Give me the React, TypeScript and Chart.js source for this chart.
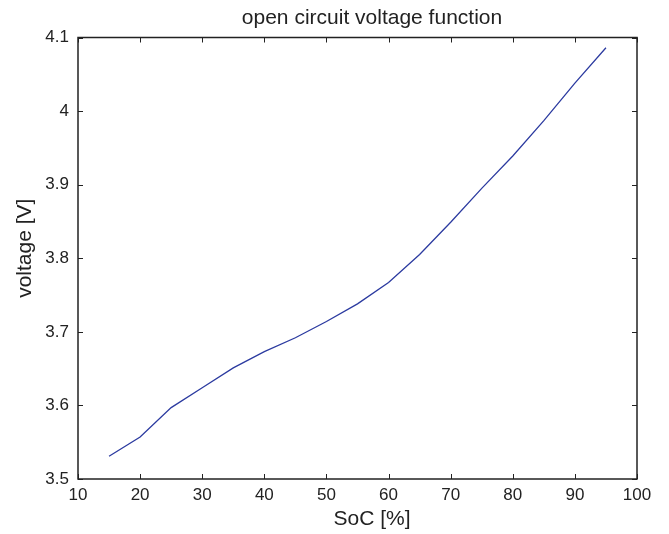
import React, { useEffect, useRef } from "react";
import { Chart, registerables } from "chart.js";

Chart.register(...registerables);

const socValues = [15, 20, 25, 30, 35, 40, 45, 50, 55, 60, 65, 70, 75, 80, 85, 90, 95];
const voltageValues = [3.531, 3.557, 3.597, 3.624, 3.651, 3.673, 3.692, 3.714, 3.738, 3.767, 3.805, 3.849, 3.895, 3.939, 3.987, 4.038, 4.086];
const xTicks = [10, 20, 30, 40, 50, 60, 70, 80, 90, 100];
const yTicks = [3.5, 3.6, 3.7, 3.8, 3.9, 4.0, 4.1];
const titleText = "open circuit voltage function";
const xLabel = "SoC [%]";
const yLabel = "voltage [V]";

const FONT = "'Liberation Sans', Arial, Helvetica, sans-serif";
const TEXT = "#222222";

const boxPlugin = {
  id: "matlabBox",
  afterDraw(chart: any) {
    const { ctx, chartArea } = chart;
    const xs = chart.scales.x;
    const ys = chart.scales.y;
    const { left, right, top, bottom } = chartArea;
    const tl = 5;
    ctx.save();
    ctx.strokeStyle = "#222222";
    ctx.lineWidth = 1;
    ctx.beginPath();
    xTicks.forEach((v) => {
      const px = Math.round(xs.getPixelForValue(v)) + 0.5;
      ctx.moveTo(px, bottom);
      ctx.lineTo(px, bottom - tl);
      ctx.moveTo(px, top);
      ctx.lineTo(px, top + tl);
    });
    yTicks.forEach((v) => {
      const py = Math.round(ys.getPixelForValue(v)) + 0.5;
      ctx.moveTo(left, py);
      ctx.lineTo(left + tl, py);
      ctx.moveTo(right, py);
      ctx.lineTo(right - tl, py);
    });
    ctx.stroke();
    ctx.lineWidth = 1.5;
    ctx.strokeRect(left, top, right - left, bottom - top);

    // texts: title and axis labels
    ctx.fillStyle = TEXT;
    ctx.font = `21px ${FONT}`;
    ctx.textAlign = "center";
    ctx.textBaseline = "middle";
    const cx = (left + right) / 2 + 14.5;
    ctx.fillText(titleText, cx, 18);
    ctx.fillText(xLabel, cx, 519);
    ctx.save();
    ctx.translate(25, (top + bottom) / 2 - 10);
    ctx.rotate(-Math.PI / 2);
    ctx.fillText(yLabel, 0, 0);
    ctx.restore();
    ctx.restore();
  },
};

export default function App() {
  const ref = useRef<HTMLCanvasElement | null>(null);
  useEffect(() => {
    if (!ref.current) return;
    const points = socValues.map((x, i) => ({ x, y: voltageValues[i] }));
    const chart = new Chart(ref.current, {
      type: "line",
      data: {
        datasets: [
          {
            data: points,
            borderColor: "#2c3ba0",
            borderWidth: 1.3,
            pointRadius: 0,
            tension: 0,
            fill: false,
          },
        ],
      },
      options: {
        animation: false,
        responsive: false,
        maintainAspectRatio: false,
        layout: { padding: { left: 0, right: 32, top: 37.5, bottom: 0 } },
        plugins: {
          legend: { display: false },
          tooltip: { enabled: false },
          title: { display: false },
        },
        scales: {
          x: {
            type: "linear",
            min: 10,
            max: 100,
            grid: { display: false, drawTicks: false },
            border: { display: false },
            afterFit: (s: any) => {
              s.height = 55;
            },
            afterBuildTicks: (s: any) => {
              s.ticks = xTicks.map((v) => ({ value: v }));
            },
            ticks: {
              color: TEXT,
              font: { family: FONT, size: 17 },
              padding: 6,
              maxRotation: 0,
              autoSkip: false,
              callback: (v: any) => String(v),
            },
          },
          y: {
            type: "linear",
            min: 3.5,
            max: 4.1,
            grid: { display: false, drawTicks: false },
            border: { display: false },
            afterFit: (s: any) => {
              s.width = 78;
            },
            afterBuildTicks: (s: any) => {
              s.ticks = yTicks.map((v) => ({ value: v }));
            },
            ticks: {
              color: TEXT,
              font: { family: FONT, size: 17 },
              padding: 9,
              autoSkip: false,
              callback: (v: any) => {
                const n = Number(v);
                return Math.abs(n - 4) < 1e-9 ? "4" : n.toFixed(1);
              },
            },
          },
        },
      },
      plugins: [boxPlugin],
    });
    return () => chart.destroy();
  }, []);
  return (
    <div style={{ position: "fixed", left: 0, top: 0, width: 669, height: 534, background: "#fff" }}>
      <canvas ref={ref} width={669} height={534} style={{ display: "block", width: 669, height: 534 }} />
    </div>
  );
}
